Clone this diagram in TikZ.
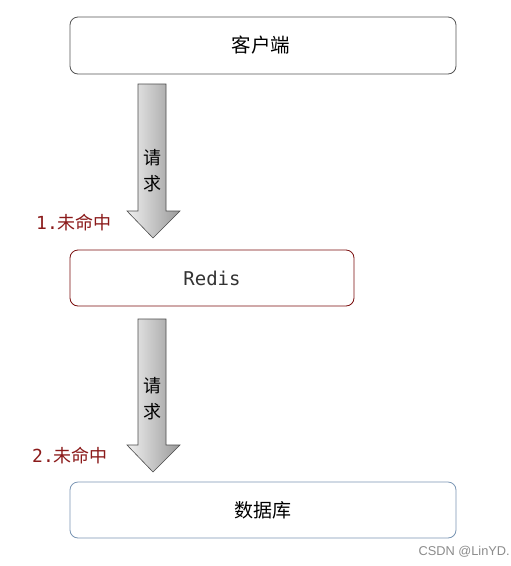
\documentclass[tikz,border=0pt]{standalone}
\usepackage{fontspec}
\setmainfont{Noto Sans CJK SC}
\newfontfamily\cjk{Noto Sans CJK SC}
\newfontfamily\monof{DejaVu Sans Mono}
\usetikzlibrary{calc}
\definecolor{boxgray}{HTML}{555555}
\definecolor{boxred}{HTML}{7A0E0E}
\definecolor{boxblue}{HTML}{7A96B4}
\definecolor{lblred}{HTML}{8B1A1A}
\tikzset{
  x=1pt, y=-1pt,
  box/.style={draw, rounded corners=8pt, line width=0.8pt, inner sep=0pt, fill=white},
  blockarrow/.style={draw=black!70, line width=0.6pt, left color=black!6, right color=black!40},
  reqlbl/.style={font=\cjk\fontsize{18}{26}\selectfont, align=center, inner sep=0pt},
  misslbl/.style={font=\cjk\fontsize{18}{20}\selectfont, text=lblred, inner sep=0pt, anchor=west},
}
\begin{document}
\begin{tikzpicture}
\useasboundingbox (0,0) rectangle (511,566);
\fill[white] (0,0) rectangle (511,566);
% boxes
\draw[box, draw=boxgray] (70,17) rectangle (456,74);
\node[font=\cjk\fontsize{19.5}{22}\selectfont] (client) at (261,45.5) {客户端};
\draw[box, draw=boxred] (70,250) rectangle (354,306);
\node[font=\monof\fontsize{19}{22}\selectfont, text=black!80] (redis) at (212,278) {Redis};
\draw[box, draw=boxblue] (70,482) rectangle (456,538);
\node[font=\cjk\fontsize{19}{22}\selectfont] (db) at (263,510) {数据库};
% arrows
\path[blockarrow] (138,84) -- (166,84) -- (166,211) -- (180,211) -- (153,238) -- (127,211) -- (138,211) -- cycle;
\node[reqlbl] (req1) at (152,171) {请\\求};
\path[blockarrow] (138,319) -- (166,319) -- (166,445) -- (180,445) -- (153,472) -- (127,445) -- (138,445) -- cycle;
\node[reqlbl] (req2) at (152,399) {请\\求};
% labels
\node[misslbl] (m1) at (36,223) {{\monof 1.}未命中};
\node[misslbl] (m2) at (32,456) {{\monof 2.}未命中};
\node[font=\fontspec{Liberation Sans}\fontsize{12.8}{14}\selectfont, text=black!45, anchor=east, inner sep=0pt] (wm) at (510,552) {CSDN @LinYD.};
\end{tikzpicture}
\end{document}
